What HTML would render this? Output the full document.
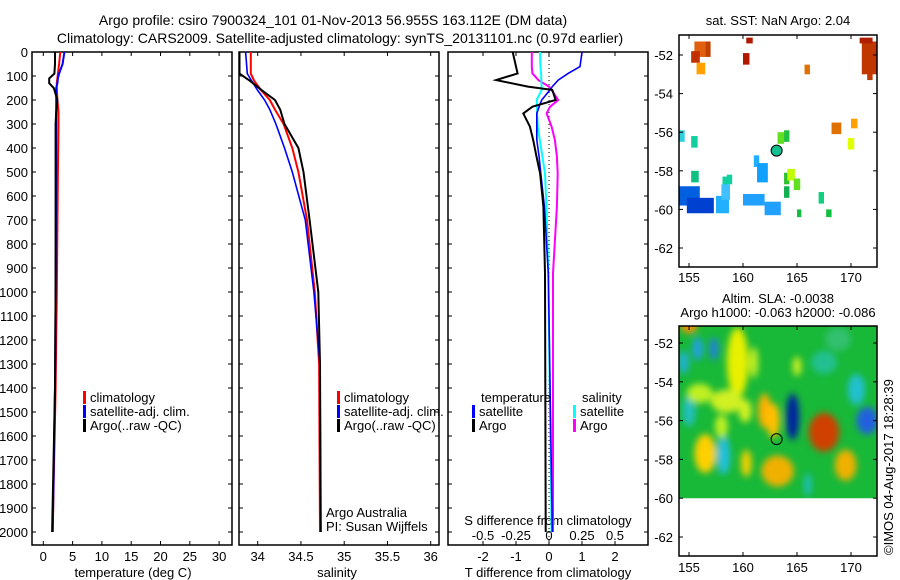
<!DOCTYPE html>
<html><head><meta charset="utf-8"><style>
html,body{margin:0;padding:0;background:#fff;}
svg{display:block;font-family:"Liberation Sans",sans-serif;}
</style></head><body>
<svg id="c" width="900" height="580" xmlns="http://www.w3.org/2000/svg">
<text x="333" y="25" font-size="14" text-anchor="middle">Argo profile: csiro 7900324_101 01-Nov-2013 56.955S 163.112E (DM data)</text>
<text x="340" y="43" font-size="14" text-anchor="middle">Climatology: CARS2009. Satellite-adjusted climatology: synTS_20131101.nc (0.97d earlier)</text>
<g id="g"></g>
</svg>
<script>
// ---- data ----
const tDepth = [0,50,90,110,130,150,200,250,300,500,1000,1400,2000];
const tArgo  = [2.0,2.0,1.9,1.0,1.0,1.8,2.4,2.2,2.1,2.1,2.1,2.0,1.5];
const tClim  = [2.9,2.7,2.5,2.4,2.3,2.3,2.4,2.6,2.6,2.5,2.3,2.1,1.6];
const tSat   = [3.6,3.3,2.7,2.5,2.4,2.2,2.2,2.2,2.2,2.2,2.1,2.0,1.6];
const sDepth = [0,90,120,160,200,240,300,400,500,700,1000,1300,2000];
const sArgo  = [33.79,33.79,33.91,34.05,34.2,34.26,34.31,34.47,34.53,34.6,34.7,34.72,34.73];
const sClim  = [33.92,33.92,33.96,34.04,34.14,34.2,34.3,34.4,34.47,34.57,34.66,34.71,34.72];
const sSat   = [33.86,33.88,33.93,34.0,34.08,34.14,34.21,34.31,34.4,34.55,34.65,34.72,34.73];
const dDepth = [0,61,89,117,144,158,200,228,256,311,367,436,506,644,922,2000];
const dTArgo = [-1.1,-1.0,-0.95,-1.6,-0.64,0.1,0.2,-0.5,-0.78,-0.58,-0.48,-0.38,-0.27,-0.17,-0.12,-0.1];
const dTSat  = [1.0,0.94,0.58,0.28,0.1,0.03,-0.22,-0.3,-0.37,-0.37,-0.37,-0.3,-0.25,-0.14,-0.02,0.1];
const dSArgo = [-0.13,-0.13,-0.126,-0.08,0.0,0.02,0.07,0.008,-0.018,0.02,0.045,0.06,0.066,0.06,0.03,0.03];
const dSSat  = [-0.068,-0.065,-0.06,-0.058,-0.056,-0.055,-0.093,-0.09,-0.09,-0.085,-0.07,-0.05,-0.03,-0.02,-0.005,0.02];
const depthTicks = [0,100,200,300,400,500,600,700,800,900,1000,1100,1200,1300,1400,1500,1600,1700,1800,1900,2000];
const tTicks = [0,5,10,15,20,25,30];
const sTicks = [34,34.5,35,35.5,36];
const sTickLabels = ["34","34.5","35","35.5","36"];
const dTTicks = [-2,-1,0,1,2];
const dSTicks = [-0.5,-0.25,0,0.25,0.5];
const dSTickLabels = ["-0.5","-0.25","0","0.25","0.5"];
const lonTicks = [155,160,165,170];
const latTicks = [-52,-54,-56,-58,-60,-62];
// SST patches
const sstLon = [155.5,155.2,156.5,155.7,160.0,160.3,163.2,168.2,170.0,171.0,172.0,170.8,171.5,154.0,155.2,163.8,169.7,158.1,161.0,161.3,155.2,154.0,154.8,157.5,158.0,158.5,160.0,162.0,163.8,164.1,164.7,163.8,167.0,165.0,167.7,165.7];
const sstLat = [-51.3,-51.8,-51.3,-52.4,-51.9,-51.1,-56.0,-55.5,-55.3,-51.3,-52.0,-51.1,-52.5,-55.9,-56.2,-55.9,-56.3,-58.3,-57.2,-57.6,-58.0,-58.8,-59.4,-59.3,-58.7,-58.2,-59.2,-59.6,-58.1,-57.9,-58.4,-58.8,-59.1,-60.0,-60.0,-52.5];
const sstW   = [1.0,0.8,0.5,0.8,0.6,0.6,0.6,0.9,0.6,2.1,0.4,1.2,0.5,0.6,0.6,0.5,0.6,0.5,0.5,1.0,0.7,2.0,2.5,1.2,0.8,0.5,2.0,1.5,0.5,0.7,0.6,0.5,0.5,0.4,0.5,0.5];
const sstH   = [0.8,0.6,0.8,0.6,0.6,0.3,0.6,0.6,0.5,1.7,0.8,0.3,0.8,0.6,0.6,0.6,0.6,0.5,0.6,1.0,0.6,1.0,0.8,0.9,0.8,0.5,0.6,0.7,0.6,0.6,0.6,0.6,0.6,0.4,0.4,0.5];
const sstCol = ["#e06010","#c03000","#c04000","#ffa000","#b01800","#b01800","#60e020","#e07000","#ffa000","#c03800","#c03800","#b02000","#c03800","#30d0e0","#10d0a0","#20c040","#e0ff00","#10d0a0","#20b0ff","#10a0ff","#10c080","#0060e0","#0040d0","#20b0ff","#40c0ff","#10d0a0","#20a0ff","#20a0ff","#30c030","#c0ff00","#60e020","#10b050","#10d080","#10c040","#10c040","#e07000"];
// SLA blobs
const slaLon = [156.5,159.5,158.2,164.6,167.5,169.5,163.2,160.3,155.0,171.5,155.8,158.5,162.0,155.0,167.5,154.5,157.3,160.2,162.8,170.5,166.0,156.0,158.0,161.0,165.0,168.8];
const slaLat = [-57.7,-53.0,-57.8,-55.8,-56.6,-58.3,-58.6,-58.2,-55.5,-56.0,-52.3,-55.0,-55.5,-51.0,-53.0,-53.0,-52.3,-55.5,-56.0,-54.4,-59.3,-54.6,-56.3,-53.0,-53.2,-51.8];
const slaRx  = [1.0,1.0,0.6,0.6,1.4,1.0,1.5,0.5,0.6,1.0,0.5,1.5,0.6,0.8,1.2,0.5,0.4,0.6,0.6,0.8,0.3,1.2,0.6,0.4,0.4,1.2];
const slaRy  = [1.0,1.8,1.0,1.2,1.0,0.8,0.8,0.7,0.8,0.7,0.6,0.6,0.9,0.5,0.6,0.6,0.6,0.6,0.9,0.8,0.6,0.5,0.6,0.8,0.5,0.6];
const slaCol = ["#ffd000","#e8f000","#20c0e0","#0020a0","#d04000","#f0b000","#f0b000","#f0d000","#20c0c0","#2060e0","#20a0e0","#d0f020","#ffb000","#ff9000","#20c090","#20b0d0","#2080e0","#d0f020","#ffc000","#20c0d0","#20c0d0","#c0f020","#c0f020","#c8f020","#d0f020","#30c070"];

const NS="http://www.w3.org/2000/svg", G=document.getElementById('g');
function el(tag,attrs,parent){const e=document.createElementNS(NS,tag);for(const k in attrs)e.setAttribute(k,attrs[k]);(parent||G).appendChild(e);return e;}
function txt(x,y,s,anchor,size,parent){const e=el('text',{x:x,y:y,'font-size':size||13,'text-anchor':anchor||'start'},parent);e.textContent=s;return e;}
const yD = d => 52 + d*0.24;
const PY0=52, PY1=545;
function panel(x0,x1,name){const r=el('rect',{x:x0,y:PY0,width:x1-x0,height:PY1-PY0,fill:'none',stroke:'#000','stroke-width':1.5});}
function line(xs,ds,fx,col,w,name){const p=xs.map((v,i)=>fx(v).toFixed(1)+','+yD(ds[i]).toFixed(1)).join(' ');const e=el('polyline',{points:p,fill:'none',stroke:col,'stroke-width':w||2});}
const xT = t => 43.3 + t*5.86;
const xS = s => 257.7 + (s-34)*86.5;
const xdT = v => 549 + v*33;
const xdS = v => 549 + v*132;
panel(32,232,'temperature-panel');panel(239,439,'salinity-panel');panel(448,648,'difference-panel');
depthTicks.forEach(d=>{const y=yD(d);
 [[32,36],[228,232],[239,243],[435,439],[448,452],[644,648]].forEach(a=>el('line',{x1:a[0],x2:a[1],y1:y,y2:y,stroke:'#000'}));
 const t=txt(28,y+5,String(d),'end',13);});
tTicks.forEach(v=>{const x=xT(v);el('line',{x1:x,x2:x,y1:PY0,y2:PY0+4,stroke:'#000'});el('line',{x1:x,x2:x,y1:PY1-4,y2:PY1,stroke:'#000'});
 const t=txt(x,561,String(v),'middle');});
sTicks.forEach((v,i)=>{const x=xS(v);el('line',{x1:x,x2:x,y1:PY0,y2:PY0+4,stroke:'#000'});el('line',{x1:x,x2:x,y1:PY1-4,y2:PY1,stroke:'#000'});
 const t=txt(x,561,sTickLabels[i],'middle');});
dTTicks.forEach(v=>{const x=xdT(v);el('line',{x1:x,x2:x,y1:PY0,y2:PY0+4,stroke:'#000'});el('line',{x1:x,x2:x,y1:PY1-4,y2:PY1,stroke:'#000'});
 const t=txt(x,561,String(v),'middle');});
dSTicks.forEach((v,i)=>{const t=txt(xdS(v),540,dSTickLabels[i],'middle');});
el('line',{x1:549,x2:549,y1:PY0,y2:PY1,stroke:'#000','stroke-dasharray':'1,3'});
let t;
t=txt(133,577,'temperature (deg C)','middle');
t=txt(337,577,'salinity','middle');
t=txt(548,577,'T difference from climatology','middle');
t=txt(548,525,'S difference from climatology','middle');
line(tClim,tDepth,xT,'#f00',2,'temp-climatology-line');
line(tSat,tDepth,xT,'#00f',2,'temp-satellite-line');
line(tArgo,tDepth,xT,'#000',2,'temp-argo-line');
line(sClim,sDepth,xS,'#f00',2,'sal-climatology-line');
line(sSat,sDepth,xS,'#00f',1.6,'sal-satellite-line');
line(sArgo,sDepth,xS,'#000',2,'sal-argo-line');
line(dSArgo,dDepth,xdS,'#f0f',2,'s-diff-argo-line');
line(dSSat,dDepth,xdS,'#0ff',2,'s-diff-satellite-line');
line(dTSat,dDepth,xdT,'#00f',1.6,'t-diff-satellite-line');
line(dTArgo,dDepth,xdT,'#000',2,'t-diff-argo-line');
function leg(x,y,col,s,name){el('rect',{x:x,y:y-11,width:3,height:13,fill:col});const t=txt(x+7,y,s,'start',13);}
leg(83,402,'#f00','climatology','legend-climatology');leg(83,416,'#00f','satellite-adj. clim.','legend-satellite');leg(83,430,'#000','Argo(..raw -QC)','legend-argo');
leg(337,402,'#f00','climatology','legend-climatology-2');leg(337,416,'#00f','satellite-adj. clim.','legend-satellite-2');leg(337,430,'#000','Argo(..raw -QC)','legend-argo-2');
t=txt(481,402,'temperature');
t=txt(582,402,'salinity');
leg(472,416,'#00f','satellite','legend-t-satellite');leg(472,430,'#000','Argo','legend-t-argo');
leg(573,416,'#0ff','satellite','legend-s-satellite');leg(573,430,'#f0f','Argo','legend-s-argo');
t=txt(326,517,'Argo Australia');
t=txt(326,531,'PI: Susan Wijffels');
// maps
const MX0=679,MX1=877;
const xL = lon => 689 + (lon-155)*10.8;
const yTop = lat => 55 + (-52-lat)*19.3;
const cp=el('clipPath',{id:'cp1'});el('rect',{x:MX0,y:35,width:MX1-MX0,height:232},cp);
const gs=el('g',{'clip-path':'url(#cp1)'});
sstLon.forEach((lo,i)=>{const r=el('rect',{x:xL(lo),y:yTop(sstLat[i]),width:sstW[i]*10.8,height:sstH[i]*19.3,fill:sstCol[i]},gs);});
el('circle',{cx:xL(163.112),cy:yTop(-56.955),r:5.5,fill:'#10c090',stroke:'#000'});
el('rect',{x:MX0,y:35,width:MX1-MX0,height:232,fill:'none',stroke:'#000','stroke-width':1.5});
t=txt(778,25,'sat. SST: NaN Argo: 2.04','middle');
const yBot = lat => 343 + (-52-lat)*19.4;
const cp2=el('clipPath',{id:'cp2'});el('rect',{x:MX0,y:326,width:MX1-MX0,height:yBot(-60)-326},cp2);
const fl=el('filter',{id:'bl',x:'-50%',y:'-50%',width:'200%',height:'200%'});el('feGaussianBlur',{stdDeviation:3.5},fl);
const gb=el('g',{'clip-path':'url(#cp2)'});
el('rect',{x:MX0,y:326,width:MX1-MX0,height:200,fill:'#18b838'},gb);
const gbb=el('g',{filter:'url(#bl)'},gb);
slaLon.forEach((lo,i)=>{const e=el('ellipse',{cx:xL(lo),cy:yBot(slaLat[i]),rx:slaRx[i]*10.8,ry:slaRy[i]*19.4,fill:slaCol[i]},gbb);});
el('circle',{cx:xL(163.112),cy:yBot(-56.955),r:5.5,fill:'none',stroke:'#000'});
el('rect',{x:MX0,y:326,width:MX1-MX0,height:230,fill:'none',stroke:'#000','stroke-width':1.5});
t=txt(778,303,'Altim. SLA: -0.0038','middle');
t=txt(778,317,'Argo h1000: -0.063 h2000: -0.086','middle');
[[yTop,35,267,282],[yBot,326,556,572]].forEach(m=>{
 latTicks.forEach(la=>{const y=m[0](la);el('line',{x1:MX0,x2:MX0+4,y1:y,y2:y,stroke:'#000'});el('line',{x1:MX1-4,x2:MX1,y1:y,y2:y,stroke:'#000'});
  const t=txt(673,y+5,String(la),'end');});
 lonTicks.forEach(lo=>{const x=xL(lo);el('line',{x1:x,x2:x,y1:m[1],y2:m[1]+4,stroke:'#000'});el('line',{x1:x,x2:x,y1:m[2]-4,y2:m[2],stroke:'#000'});
  const t=txt(x,m[3],String(lo),'middle');});
});
t=el('text',{x:0,y:0,'font-size':13,transform:'translate(893,555) rotate(-90)'});t.textContent='©IMOS 04-Aug-2017 18:28:39';

</script>
</body></html>
